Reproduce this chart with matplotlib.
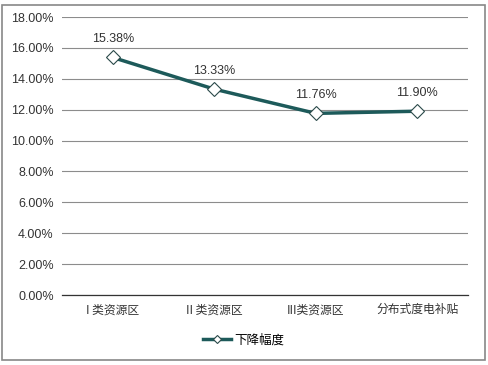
import matplotlib
matplotlib.use("Agg")
import matplotlib.pyplot as plt
from matplotlib.patches import Rectangle
from matplotlib.ticker import FuncFormatter, MultipleLocator

plt.rcParams['font.family'] = ['Noto Sans CJK SC', 'DejaVu Sans']

categories = ["I 类资源区", "II 类资源区", "III类资源区", "分布式度电补贴"]
values = [15.38, 13.33, 11.76, 11.90]
labels = ["15.38%", "13.33%", "11.76%", "11.90%"]
series_name = "下降幅度"

fig = plt.figure(figsize=(4.88, 3.65), dpi=100)
ax = fig.add_axes([62/488, 1-295/365, (468-62)/488, (295-17)/365])

x = list(range(len(categories)))
line_color = "#1d5a5a"
ax.plot(x, values, color=line_color, lw=2.5, marker="D", markersize=7,
        markerfacecolor="white", markeredgecolor="#2a4a4a", markeredgewidth=0.8,
        label=series_name, zorder=3)
for xi, v, t in zip(x, values, labels):
    ax.annotate(t, (xi, v), xytext=(0, 9), textcoords="offset points",
                ha="center", va="bottom", fontsize=9, color="#333333",
                family="Liberation Sans")

ax.set_xlim(-0.5, len(categories) - 0.5)
ax.set_ylim(0, 18)
ax.yaxis.set_major_locator(MultipleLocator(2))
ax.yaxis.set_major_formatter(FuncFormatter(lambda v, p: f"{v:.2f}%"))
ax.set_xticks(x)
ax.set_xticklabels(categories, fontsize=8.5, color="#333333")
for lab in ax.get_yticklabels():
    lab.set_fontsize(9)
    lab.set_color("#333333")
    lab.set_family("Liberation Sans")
ax.tick_params(axis="both", length=0, pad=6)
ax.grid(axis="y", color="#8c8c8c", lw=0.8)
ax.set_axisbelow(True)
for s in ["top", "right", "left"]:
    ax.spines[s].set_visible(False)
ax.spines["bottom"].set_color("#333333")
ax.spines["bottom"].set_linewidth(0.9)

leg = fig.legend(loc="center", bbox_to_anchor=(0.5, 1 - 340/365), frameon=False,
                 fontsize=9, handlelength=2.2, markerscale=0.6, handletextpad=0.3)

fig.patches.append(Rectangle((2/488, 5/365), 483/488, 355/365, transform=fig.transFigure,
                             fill=False, edgecolor="#888888", lw=1.2))
fig.savefig("out.png", dpi=100)
